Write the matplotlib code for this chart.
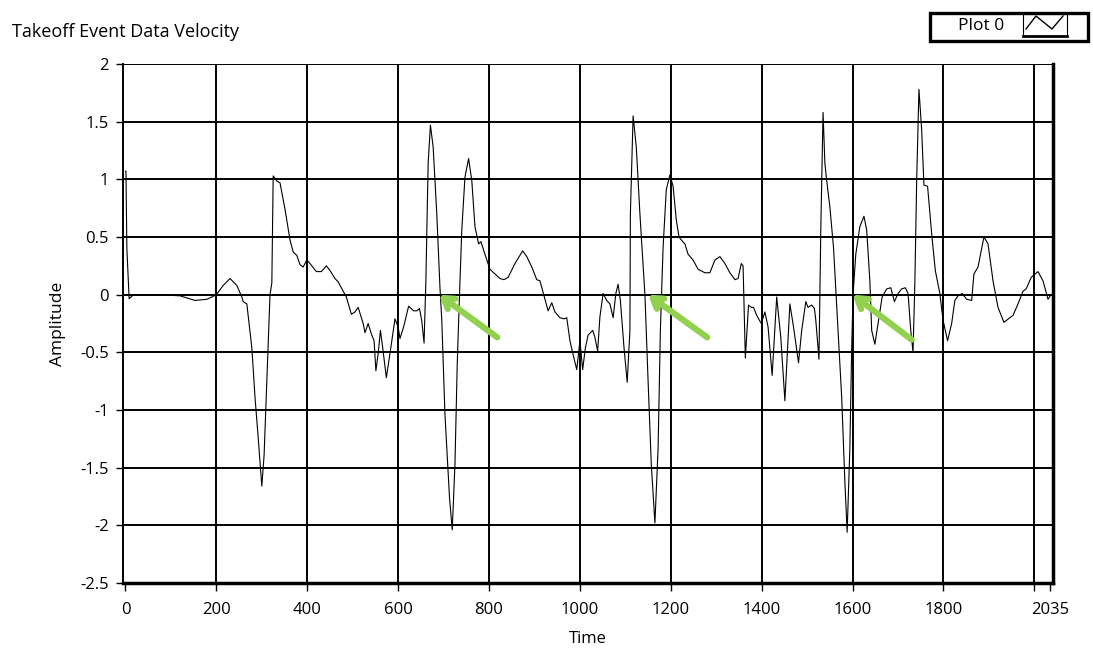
import numpy as np
import matplotlib.pyplot as plt
from matplotlib.patches import Rectangle
from matplotlib.lines import Line2D

plt.rcParams['font.family'] = ['Open Sans', 'DejaVu Sans']

# velocity trace (time, amplitude)
t = [0, 1, 3, 8, 18, 40, 60, 98, 120, 153, 179, 190, 200, 215, 230, 245, 256, 259, 267,
     278, 285, 292, 300, 305, 311, 318, 322, 325, 333, 340, 351, 362, 369, 377, 384,
     391, 399, 406, 420, 431, 442, 450, 461, 468, 486, 497, 505, 512, 523, 527, 534,
     541, 547, 551, 556, 561, 566, 574, 582, 593, 600, 604, 612, 623, 634, 641, 647,
     652, 657, 661, 666, 671, 677, 685, 692, 696, 703, 713, 719, 725, 730, 735, 740,
     747, 755, 762, 769, 777, 782, 791, 802, 813, 824, 833, 842, 857, 874, 883, 894,
     905, 912, 919, 930, 938, 945, 956, 965, 971, 978, 985, 993, 1000, 1006, 1012,
     1018, 1028, 1033, 1039, 1044, 1051, 1059, 1066, 1073, 1079, 1084, 1089, 1097,
     1104, 1110, 1111, 1117, 1124, 1132, 1143, 1150, 1157, 1165, 1172, 1177, 1183,
     1190, 1198, 1205, 1212, 1218, 1226, 1231, 1238, 1249, 1260, 1275, 1286, 1297,
     1308, 1319, 1330, 1341, 1348, 1355, 1359, 1364, 1371, 1377, 1382, 1389, 1399,
     1407, 1414, 1423, 1433, 1442, 1451, 1462, 1470, 1481, 1488, 1497, 1502, 1510,
     1516, 1519, 1526, 1530, 1535, 1539, 1543, 1550, 1558, 1568, 1576, 1583, 1588,
     1594, 1598, 1601, 1607, 1616, 1625, 1631, 1638, 1642, 1649, 1656, 1665, 1675,
     1684, 1692, 1700, 1708, 1716, 1722, 1728, 1733, 1737, 1741, 1746, 1752, 1757,
     1765, 1774, 1782, 1792, 1799, 1809, 1818, 1825, 1832, 1841, 1851, 1862, 1867,
     1876, 1889, 1898, 1909, 1920, 1933, 1946, 1953, 1964, 1975, 1982, 1993, 2008,
     2019, 2030, 2035]
amp = [1.07, 1.07, 0.4, -0.035, 0.0, -0.005, 0.0, -0.005, -0.01, -0.05, -0.04, -0.02, 0.0, 0.08, 0.14, 0.08, -0.02, -0.06, -0.08,
       -0.46, -0.89, -1.24, -1.66, -1.39, -0.75, 0.0, 0.1, 1.03, 0.985, 0.97, 0.74, 0.475, 0.37, 0.34, 0.26,
       0.24, 0.30, 0.27, 0.2, 0.2, 0.25, 0.21, 0.14, 0.11, -0.02, -0.17, -0.15, -0.11, -0.25, -0.33, -0.25,
       -0.34, -0.40, -0.66, -0.51, -0.31, -0.46, -0.72, -0.51, -0.21, -0.28, -0.38, -0.28, -0.10, -0.14, -0.14, -0.12,
       -0.23, -0.42, 0.12, 1.14, 1.47, 1.28, 0.70, 0.06, -0.22, -1.04, -1.76, -2.04, -1.47, -0.60, 0.0, 0.56,
       1.02, 1.18, 0.99, 0.59, 0.44, 0.46, 0.35, 0.22, 0.18, 0.14, 0.13, 0.15, 0.27, 0.38, 0.33, 0.24,
       0.13, 0.12, 0.02, -0.14, -0.07, -0.15, -0.20, -0.21, -0.20, -0.40, -0.52, -0.65, -0.40, -0.65, -0.46,
       -0.35, -0.31, -0.37, -0.49, -0.19, 0.01, -0.05, -0.08, -0.20, 0.01, 0.09, -0.05, -0.46,
       -0.76, -0.31, 0.70, 1.55, 1.28, 0.70, 0.0, -0.75, -1.47, -1.98, -1.33, -0.31, 0.41,
       0.91, 1.04, 0.94, 0.65, 0.5, 0.46, 0.44, 0.35, 0.30, 0.22, 0.19, 0.19, 0.30,
       0.33, 0.27, 0.19, 0.13, 0.14, 0.27, 0.25, -0.55, -0.09, -0.11, -0.11, -0.18, -0.25,
       -0.15, -0.28, -0.70, -0.02, -0.37, -0.92, -0.08, -0.28, -0.59, -0.31, -0.06, -0.11, -0.09,
       -0.12, -0.22, -0.56, 0.56, 1.58, 1.14, 0.99, 0.76, 0.41, -0.31, -0.89, -1.62, -2.06,
       -1.33, -0.46, 0.0, 0.35, 0.59, 0.68, 0.56, 0.12, -0.31, -0.43, -0.25, -0.02, 0.05,
       0.06, -0.06, 0.01, 0.05, 0.06, 0.01, -0.31, -0.50, 0.1, 0.99, 1.78, 1.43, 0.95,
       0.94, 0.53, 0.21, 0.01, -0.22, -0.40, -0.25, -0.05, -0.01, 0.01, -0.04, -0.05, 0.18,
       0.24, 0.50, 0.44, 0.12, -0.11, -0.24, -0.20, -0.18, -0.08, 0.03, 0.05, 0.15, 0.20,
       0.12, -0.04, -0.01]

# green arrows pointing at the zero crossings
arrow_tail_t = [818, 1280, 1730]
arrow_tail_y = [-0.37, -0.37, -0.39]
arrow_head_t = [690, 1150, 1600]
arrow_head_y = [0.0, 0.0, 0.0]

xticks = [0, 200, 400, 600, 800, 1000, 1200, 1400, 1600, 1800, 2000, 2035]
xticklabels = ['0', '200', '400', '600', '800', '1000', '1200', '1400', '1600', '1800', '', '2035']
yticks = [-2.5, -2, -1.5, -1, -0.5, 0, 0.5, 1, 1.5, 2]
yticklabels = ['-2.5', '-2', '-1.5', '-1', '-0.5', '0', '0.5', '1', '1.5', '2']

W, H = 1093, 652
fig = plt.figure(figsize=(W / 100, H / 100), dpi=100)
ax = fig.add_axes([123 / W, 1 - 583 / H, (1053 - 123) / W, (583 - 64) / H])

ax.plot(t, amp, color='black', lw=0.8, zorder=3)

for tt, yy, hx, hy in zip(arrow_tail_t, arrow_tail_y, arrow_head_t, arrow_head_y):
    ax.annotate('', xy=(hx, hy), xytext=(tt, yy),
                arrowprops=dict(arrowstyle='->,head_length=0.7,head_width=0.45',
                                color='#92d050', lw=4.5, shrinkA=0, shrinkB=0),
                zorder=4)

ax.set_xlim(-5.5, 2041)
ax.set_ylim(-2.5, 2)
ax.set_xticks(xticks)
ax.set_xticklabels(xticklabels)
ax.set_yticks(yticks)
ax.set_yticklabels(yticklabels)
ax.grid(True, color='black', lw=1.4)
# no grid line on the axis start and on the end value, the frame is there
gl = ax.get_xgridlines()
gl[0].set_visible(False)
gl[-1].set_visible(False)
ax.tick_params(axis='x', direction='out', length=6, width=1, labelsize=12, pad=8)
ax.tick_params(axis='y', direction='out', length=5, width=1, labelsize=12, pad=5)
for s in ax.spines.values():
    s.set_linewidth(1.4)
ax.spines['bottom'].set_linewidth(2.5)
ax.spines['right'].set_linewidth(2.5)
ax.spines['top'].set_visible(False)
ax.set_xlabel('Time', fontsize=12, labelpad=9)
ax.set_ylabel('Amplitude', fontsize=12.5, labelpad=10)

fig.text(12 / W, 1 - 32 / H, 'Takeoff Event Data Velocity', fontsize=13, va='center', ha='left')

# legend box in the top right corner
fig.add_artist(Rectangle((930 / W, 1 - 41 / H), (1088 - 930) / W, (41 - 13) / H,
                         transform=fig.transFigure, fill=False, ec='black', lw=2.4))
fig.add_artist(Rectangle((1023 / W, 1 - 36 / H), (1067 - 1023) / W, (36 - 14) / H,
                         transform=fig.transFigure, fill=False, ec='black', lw=0.8))
fig.add_artist(Line2D([1023 / W, 1067 / W], [1 - 36 / H, 1 - 36 / H],
                      transform=fig.transFigure, color='black', lw=2.0))
fig.add_artist(Line2D([1026 / W, 1036 / W, 1052 / W, 1063 / W],
                      [1 - 29 / H, 1 - 16 / H, 1 - 29 / H, 1 - 16 / H],
                      transform=fig.transFigure, color='black', lw=1.0))
fig.text(981 / W, 1 - 26 / H, 'Plot 0', fontsize=12.5, va='center', ha='center')

fig.savefig('out.png', dpi=100)
